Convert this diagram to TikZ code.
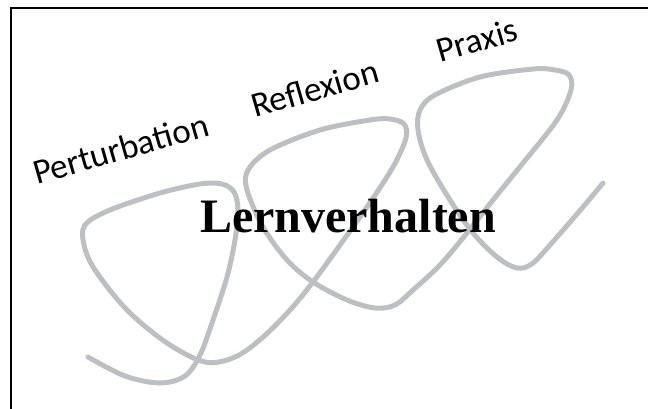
\documentclass[tikz,border=0pt]{standalone}
\usepackage{fontspec}
\setmainfont{Liberation Serif}
\newfontfamily\labelfont{Carlito}
\definecolor{curvegray}{RGB}{189,192,195}
\tikzset{
  frameline/.style={line width=1.6pt, draw=black},
  wave/.style={draw=curvegray, line width=5pt, line cap=round, line join=round},
  steplabel/.style={font=\labelfont\fontsize{35}{42}\selectfont, rotate=16, anchor=base west, inner sep=0pt},
  titlelabel/.style={font=\bfseries\fontsize{48}{56}\selectfont, anchor=base, inner sep=0pt}
}
\begin{document}
\begin{tikzpicture}[x=1pt,y=-1pt]
\useasboundingbox (0,0) rectangle (648,409);
\coordinate (ftl) at (11,8);
\coordinate (ftr) at (648,8);
\coordinate (fbl) at (11,409);
\draw[frameline] (ftr) -- (ftl) -- (fbl);
\draw[wave] plot[smooth, tension=0.55] coordinates {
(88,357) (125,376) (160,383) (185,376) (200,355) (213,320) (227,277) (235,240)
(238,210) (234,192) (222,184) (200,184) (160,193) (110,210) (85,225) (84,245)
(95,270) (127,310) (167,343) (205,362) (235,357) (262,338) (290,310) (313,282)
(340,245) (367,207) (393,167) (406,138) (404,124) (390,119) (370,120) (320,130)
(270,150) (248,170) (247,190) (263,227) (287,260) (313,282) (347,300) (375,308)
(395,305) (413,290) (440,265) (467,233) (493,200) (523,163) (557,120) (571,90)
(569,75) (555,70) (533,69) (480,77) (435,95) (420,110) (418,130) (427,160)
(450,200) (473,233) (497,257) (517,268) (533,263) (557,237) (583,207) (603,183)};
\node[steplabel] (pert) at (37,185) {Perturbation};
\node[steplabel] (refl) at (255,118) {Reflexion};
\node[steplabel] (prax) at (440,63) {Praxis};
\node[titlelabel] (lern) at (348,232) {Lernverhalten};
\end{tikzpicture}
\end{document}
